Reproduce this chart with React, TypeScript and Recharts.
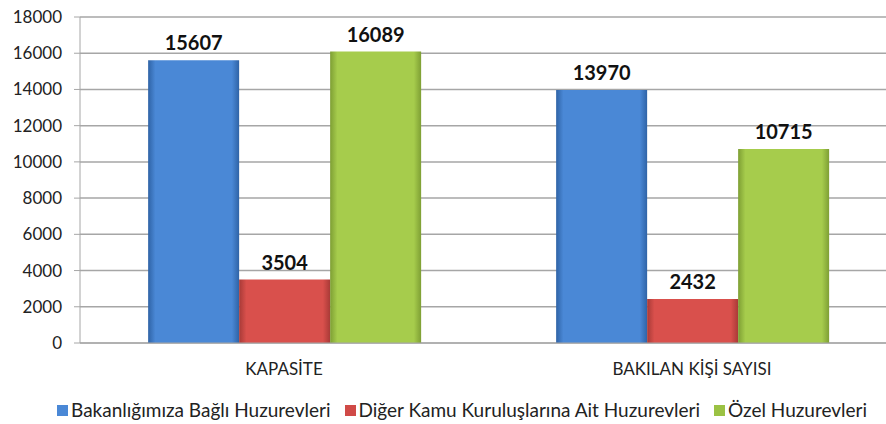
import React from "react";
import { BarChart, Bar, XAxis, YAxis, CartesianGrid, LabelList } from "recharts";

const categories = ["KAPASİTE", "BAKILAN KİŞİ SAYISI"];
const bakanlik = [15607, 13970];
const digerKamu = [3504, 2432];
const ozel = [16089, 10715];
const yTicks = [0, 2000, 4000, 6000, 8000, 10000, 12000, 14000, 16000, 18000];
const seriesNames = [
  "Bakanlığımıza Bağlı Huzurevleri",
  "Diğer Kamu Kuruluşlarına Ait Huzurevleri",
  "Özel Huzurevleri",
];

const data = categories.map((c, i) => ({
  name: c,
  a: bakanlik[i],
  b: digerKamu[i],
  c: ozel[i],
}));

const colors = [
  { id: "gBlue", edge: "#2f63a6", mid: "#4a88d6", sw: "#4a88d6" },
  { id: "gRed", edge: "#a83a37", mid: "#d9504c", sw: "#d04a47" },
  { id: "gGreen", edge: "#7e9f34", mid: "#a6cc4c", sw: "#9bc244" },
];

const font = "Lato, 'Open Sans', sans-serif";

const Legend2 = () => (
  <div
    style={{
      position: "absolute",
      top: 399,
      left: 57,
      width: 829,
      display: "flex",
      justifyContent: "flex-start",
      fontFamily: font,
      fontSize: 19,
      lineHeight: "22px",
      color: "#222",
      whiteSpace: "nowrap",
    }}
  >
    {seriesNames.map((n, i) => (
      <span key={n} style={{ display: "inline-flex", alignItems: "center", marginRight: 14 }}>
        <span
          style={{
            display: "inline-block",
            width: 11,
            height: 11,
            background: colors[i].sw,
            marginRight: 3,
          }}
        />
        {n}
      </span>
    ))}
  </div>
);

export default function App() {
  return (
    <div style={{ position: "absolute", left: 0, top: 0, width: 886, height: 424, overflow: "hidden", background: "#fff" }}>
      <BarChart
        width={900}
        height={424}
        data={data}
        margin={{ top: 17, right: 4, left: 0, bottom: 46 }}
        barCategoryGap="16.7%"
        barGap={0}
      >
        <defs>
          {colors.map((c) => (
            <linearGradient key={c.id} id={c.id} x1="0" y1="0" x2="1" y2="0">
              <stop offset="0%" stopColor={c.edge} />
              <stop offset="8%" stopColor={c.mid} />
              <stop offset="92%" stopColor={c.mid} />
              <stop offset="100%" stopColor={c.edge} />
            </linearGradient>
          ))}
        </defs>
        <CartesianGrid vertical={false} stroke="#a6a6a6" strokeWidth={1.5} />
        <XAxis
          dataKey="name"
          height={35}
          stroke="#a6a6a6"
          tickLine={false}
          tickMargin={14}
          tick={{ fontFamily: font, fontSize: 17, fill: "#222" }}
        />
        <YAxis
          width={80}
          domain={[0, 18000]}
          ticks={yTicks}
          interval={0}
          stroke="#a6a6a6"
          tickSize={6}
          tickMargin={12}
          tick={{ fontFamily: font, fontSize: 17, fill: "#222" }}
        />
        {["a", "b", "c"].map((k, i) => (
          <Bar key={k} dataKey={k} fill={`url(#${colors[i].id})`} isAnimationActive={false}>
            <LabelList
              dataKey={k}
              position="top"
              offset={10}
              style={{ fontFamily: font, fontSize: 20, fontWeight: 700, fill: "#111" }}
            />
          </Bar>
        ))}
      </BarChart>
      <Legend2 />
    </div>
  );
}
